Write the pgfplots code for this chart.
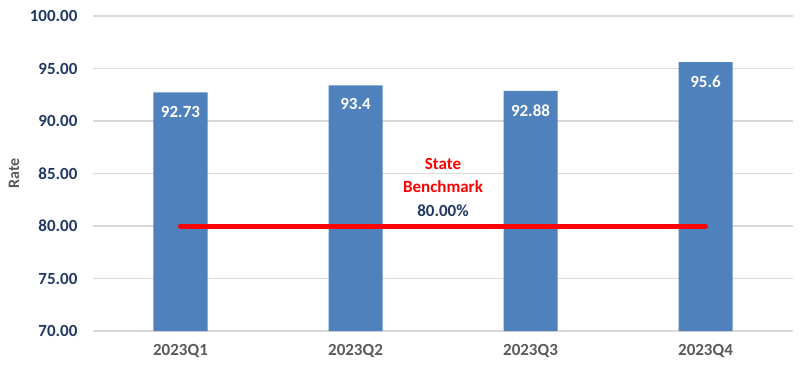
\documentclass[border=0pt]{standalone}
\usepackage{pgfplots}
\pgfplotsset{compat=1.18}
\usepackage{fontspec}
\setmainfont{Carlito}
\definecolor{barblue}{HTML}{4F81BD}
\definecolor{navy}{HTML}{1F3864}
\definecolor{labgray}{HTML}{595959}
\definecolor{gridgray}{HTML}{D9D9D9}
\definecolor{bmred}{HTML}{FF0000}
\begin{document}
\begin{tikzpicture}
\useasboundingbox (-93pt,-36pt) rectangle (709pt,331pt);
\begin{axis}[
  at={(0,0)}, anchor=south west,
  scale only axis, width=700pt, height=315pt,
  xmin=-0.5, xmax=3.5, ymin=70, ymax=100,
  xtick={0,1,2,3},
  xticklabels={2023Q1,2023Q2,2023Q3,2023Q4},
  ytick={70,75,80,85,90,95,100},
  /pgf/number format/assume math mode=true,
  yticklabel={\pgfmathprintnumber[fixed,fixed zerofill,precision=2]{\tick}},
  yticklabel style={font=\fontsize{17}{20}\selectfont\bfseries, text=navy, xshift=-12pt},
  xticklabel style={font=\fontsize{17}{20}\selectfont\bfseries, text=labgray, yshift=-10pt},
  ymajorgrids, major grid style={gridgray, line width=1.5pt},
  axis line style={draw=none}, major tick length=0pt, tick style={draw=none},
  ylabel={Rate},
  ylabel style={font=\fontsize{16}{19}\selectfont\bfseries, text=labgray, at={(axis description cs:0,0.5)}, anchor=center, xshift=0pt, yshift=79pt},
  clip=false,
]
\addplot[ybar, bar width=54pt, fill=barblue, draw=none,
  nodes near coords,
  every node near coord/.append style={anchor=north, yshift=-10pt, text=white, font=\fontsize{17}{20}\selectfont\bfseries}]
  coordinates {(0,92.73) (1,93.4) (2,92.88) (3,95.6)};
\addplot[bmred, line width=5pt, line cap=round, mark=none] coordinates {(0,80) (3,80)};
\node[align=center, font=\fontsize{17}{23.5}\selectfont\bfseries] at (axis cs:1.5,83.7)
  {\textcolor{bmred}{State}\\\textcolor{bmred}{Benchmark}\\\textcolor{navy}{80.00\%}};
\end{axis}
\end{tikzpicture}
\end{document}
